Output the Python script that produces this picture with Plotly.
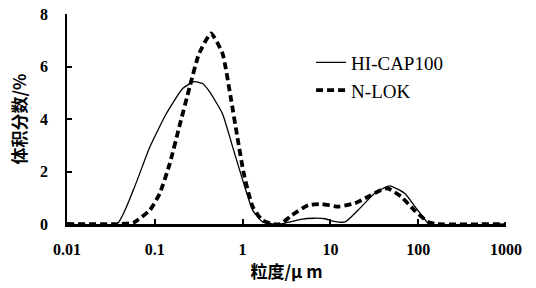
import plotly.graph_objects as go

# particle size (µm) and volume fraction (%)
hicap_size = [0.01, 0.037, 0.057, 0.088, 0.135, 0.209, 0.283, 0.35, 0.418, 0.59, 0.77, 1.0, 1.3, 1.67, 2.2,
              2.7, 3.5, 4.6, 6.5, 8.7, 11, 14.7, 20.7, 32, 47, 70, 98.6, 134, 1000]
hicap_vals = [0, 0, 1.3, 2.94, 4.2, 5.17, 5.42, 5.35, 5.05, 4.2, 2.94, 1.68, 0.53, 0.09, 0,
              0, 0.08, 0.18, 0.22, 0.2, 0.1, 0.08, 0.53, 1.17, 1.45, 1.17, 0.53, 0, 0]

nlok_size = [0.01, 0.04, 0.057, 0.088, 0.114, 0.148, 0.19, 0.25, 0.32, 0.437, 0.59, 0.73, 0.87, 1.03,
             1.3, 1.67, 2.2, 2.7, 3.66, 5.6, 8.0, 12.3, 19, 26.9, 38, 45, 64, 90, 128, 160, 1000]
nlok_vals = [0, 0, 0.05, 0.53, 1.17, 2.3, 3.7, 5.23, 6.5, 7.26, 6.5, 4.85, 3.33, 1.93,
             0.66, 0.15, 0, 0, 0.34, 0.72, 0.76, 0.66, 0.79, 1.04, 1.3, 1.36, 1.04, 0.53, 0.09, 0, 0]

x_ticks = [0.01, 0.1, 1, 10, 100, 1000]
x_ticklabels = ["0.01", "0.1", "1", "10", "100", "1000"]
y_ticks = [0, 2, 4, 6, 8]

serif = "Liberation Serif"
cjk = "Noto Sans CJK SC"

fig = go.Figure()
fig.add_trace(go.Scatter(x=hicap_size, y=hicap_vals, mode="lines", name="HI-CAP100",
                         line=dict(color="black", width=1.3, shape="spline", smoothing=0.5)))
fig.add_trace(go.Scatter(x=nlok_size, y=nlok_vals, mode="lines", name="N-LOK",
                         line=dict(color="black", width=3.8, dash="7px,4px", shape="spline", smoothing=0.5)))

fig.update_layout(
    width=536, height=288,
    margin=dict(l=67, r=30, t=14, b=64, autoexpand=False),
    paper_bgcolor="white", plot_bgcolor="white",
    showlegend=True,
    legend=dict(x=0.556, y=0.859, xanchor="left", yanchor="top", bgcolor="rgba(0,0,0,0)",
                font=dict(family=serif, size=19, color="black"), tracegroupgap=0),
    font=dict(family=serif, color="black"),
)
fig.update_xaxes(type="log", range=[-2, 3], tickvals=x_ticks, ticktext=x_ticklabels,
                 automargin=False,
                 showgrid=False, zeroline=False, showline=True, linecolor="black", linewidth=2.5,
                 ticks="inside", ticklen=5, tickcolor="black", tickwidth=1.5,
                 ticklabelstandoff=9,
                 tickfont=dict(family=serif, size=16, color="black", weight="bold"),
                 title=dict(text="粒度/μ m", font=dict(family=cjk, size=17, color="black", weight="bold"),
                            standoff=8))
fig.update_yaxes(range=[0, 8], tickvals=y_ticks, automargin=False,
                 showgrid=False, zeroline=False, showline=True, linecolor="black", linewidth=1.8,
                 ticks="inside", ticklen=5, tickcolor="black", tickwidth=1.5,
                 ticklabelstandoff=14,
                 tickfont=dict(family=serif, size=16, color="black", weight="bold"),
                 title=dict(text="体积分数/%", font=dict(family=cjk, size=17, color="black", weight="bold"),
                            standoff=9))

fig.write_html("out.html", post_script="document.body.style.margin='0';",
               config={"displayModeBar": False})
